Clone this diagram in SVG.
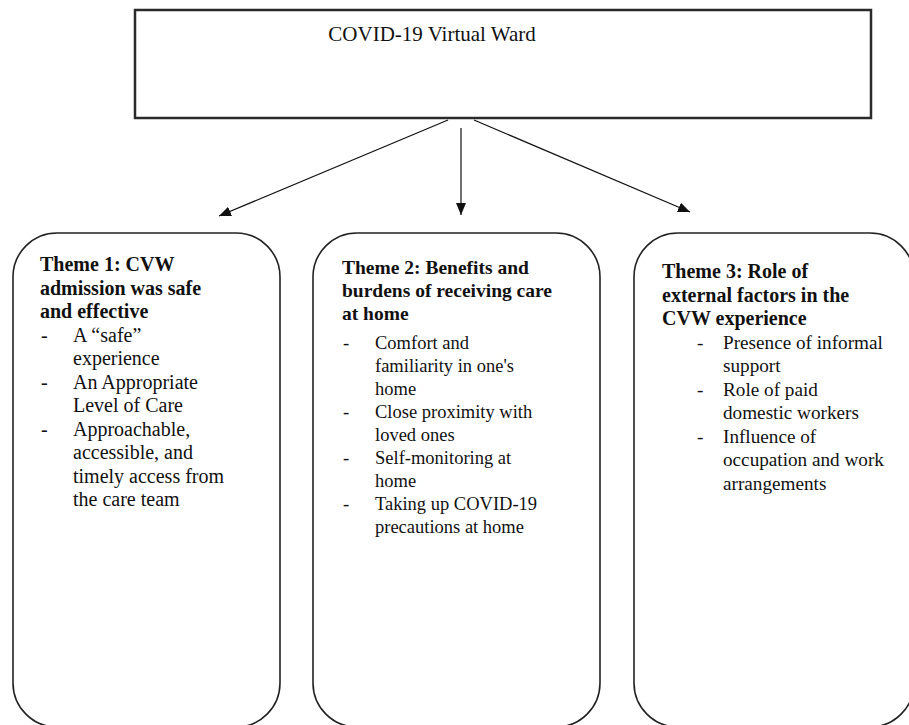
<svg xmlns="http://www.w3.org/2000/svg" width="909" height="725" viewBox="0 0 909 725">
<defs>
<marker id="ah" viewBox="0 0 12 10" refX="12" refY="5" markerWidth="12" markerHeight="10" markerUnits="userSpaceOnUse" orient="auto">
<path d="M0,0 L12,5 L0,10 Z" fill="#111"/>
</marker>
</defs>
<style>
.box{fill:#fff;stroke:#222;stroke-width:1.6}
.top{fill:#fff;stroke:#2a2a2a;stroke-width:2.5}
.t{font-family:"Liberation Serif","Times New Roman",serif;fill:#111}
.b{font-weight:bold}
.conn{stroke:#111;stroke-width:1.2;fill:none;marker-end:url(#ah)}
</style>
<rect width="909" height="725" fill="#fff"/>
<g id="top-node">
<rect class="top" x="135" y="10" width="736" height="108"/>
<text class="t" x="432" y="41" font-size="21" text-anchor="middle">COVID-19 Virtual Ward</text>
</g>
<g id="connectors">
<line class="conn" x1="448" y1="120" x2="219" y2="216"/>
<line class="conn" x1="461" y1="128" x2="461" y2="215"/>
<line class="conn" x1="474" y1="120" x2="690" y2="212"/>
</g>
<g id="theme1">
<rect class="box" x="13" y="233" width="267" height="494" rx="44" ry="44"/>
<text class="t b" font-size="20"><tspan x="40" y="271">Theme 1: CVW</tspan><tspan x="40" y="295">admission was safe</tspan><tspan x="40" y="318">and effective</tspan></text>
<text class="t" font-size="20"><tspan x="41" y="342">-</tspan><tspan x="73" y="342">A “safe”</tspan><tspan x="73" y="365">experience</tspan><tspan x="41" y="389">-</tspan><tspan x="73" y="389">An Appropriate</tspan><tspan x="73" y="412">Level of Care</tspan><tspan x="41" y="436">-</tspan><tspan x="73" y="436">Approachable,</tspan><tspan x="73" y="459">accessible, and</tspan><tspan x="73" y="483">timely access from</tspan><tspan x="73" y="506">the care team</tspan></text>
</g>
<g id="theme2">
<rect class="box" x="313" y="233" width="287" height="494" rx="44" ry="44"/>
<text class="t b" font-size="19.5"><tspan x="342" y="274">Theme 2: Benefits and</tspan><tspan x="342" y="297">burdens of receiving care</tspan><tspan x="342" y="320">at home</tspan></text>
<text class="t" font-size="18.5"><tspan x="343" y="349">-</tspan><tspan x="375" y="349">Comfort and</tspan><tspan x="375" y="372">familiarity in one's</tspan><tspan x="375" y="395">home</tspan><tspan x="343" y="418">-</tspan><tspan x="375" y="418">Close proximity with</tspan><tspan x="375" y="441">loved ones</tspan><tspan x="343" y="464">-</tspan><tspan x="375" y="464">Self-monitoring at</tspan><tspan x="375" y="487">home</tspan><tspan x="343" y="510">-</tspan><tspan x="375" y="510">Taking up COVID-19</tspan><tspan x="375" y="533">precautions at home</tspan></text>
</g>
<g id="theme3">
<rect class="box" x="634" y="233" width="280" height="494" rx="44" ry="44"/>
<text class="t b" font-size="20"><tspan x="662" y="278">Theme 3: Role of</tspan><tspan x="662" y="302">external factors in the</tspan><tspan x="662" y="325">CVW experience</tspan></text>
<text class="t" font-size="19.2"><tspan x="697" y="349">-</tspan><tspan x="723" y="349">Presence of informal</tspan><tspan x="723" y="372">support</tspan><tspan x="697" y="396">-</tspan><tspan x="723" y="396">Role of paid</tspan><tspan x="723" y="419">domestic workers</tspan><tspan x="697" y="443">-</tspan><tspan x="723" y="443">Influence of</tspan><tspan x="723" y="466">occupation and work</tspan><tspan x="723" y="490">arrangements</tspan></text>
</g>
</svg>
